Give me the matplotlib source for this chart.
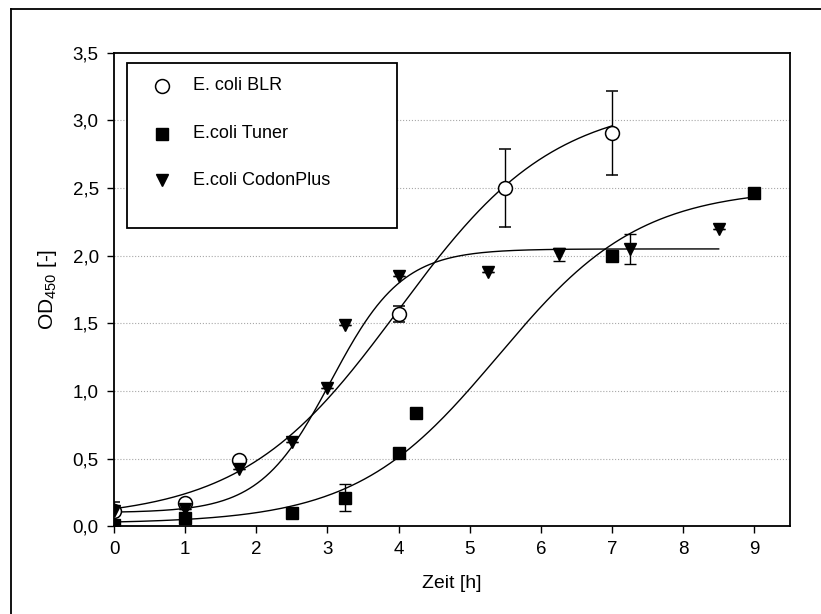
import numpy as np
import matplotlib.pyplot as plt
from matplotlib.lines import Line2D
from matplotlib.patches import Rectangle

# ------ data ---------------------------
blr_t = [0, 1, 1.75, 4, 5.5, 7]
blr_od = [0.11, 0.17, 0.49, 1.57, 2.50, 2.91]
blr_err = [0.07, 0.02, 0.0, 0.06, 0.29, 0.31]

tuner_t = [0, 1, 2.5, 3.25, 4, 4.25, 7, 9]
tuner_od = [0.01, 0.06, 0.10, 0.21, 0.54, 0.84, 2.00, 2.46]
tuner_err = [0.0, 0.0, 0.0, 0.10, 0.0, 0.0, 0.0, 0.0]

codon_t = [0, 1, 1.75, 2.5, 3, 3.25, 4, 5.25, 6.25, 7.25, 8.5]
codon_od = [0.11, 0.13, 0.42, 0.62, 1.02, 1.49, 1.85, 1.88, 2.01, 2.05, 2.20]
codon_err = [0.0, 0.0, 0.0, 0.0, 0.0, 0.0, 0.0, 0.0, 0.05, 0.11, 0.0]

labels = ['E. coli BLR', 'E.coli Tuner', 'E.coli CodonPlus']

# sigmoid fit parameters (y0, a, x0, b) and fit range
blr_fit = (0.05, 3.10, 4.0, 1.10, 7.0)
tuner_fit = (0.02, 2.48, 5.4, 1.00, 9.0)
codon_fit = (0.10, 1.95, 3.05, 0.50, 8.5)
# ---------------------------------------


def sigmoid(x, y0, a, x0, b):
	return y0 + a / (1 + np.exp(-(x - x0) / b))


def draw_fit(ax, fit):
	y0, a, x0, b, xmax = fit
	xs = np.linspace(0, xmax, 300)
	ax.plot(xs, sigmoid(xs, y0, a, x0, b), color='black', lw=1.0, zorder=2)


plt.rcParams['font.family'] = ['Liberation Sans', 'DejaVu Sans']
plt.rcParams['mathtext.default'] = 'regular'

fig = plt.figure(figsize=(8.21, 6.14), dpi=100)
ax = fig.add_axes([0.139, 0.143, 0.823, 0.771])

for fit in (blr_fit, tuner_fit, codon_fit):
	draw_fit(ax, fit)

styles = [
	dict(marker='o', ms=10, mfc='white', mec='black', mew=1.1),
	dict(marker='s', ms=8, mfc='black', mec='black'),
	dict(marker='v', ms=9, mfc='black', mec='black'),
]

err_kw = dict(ecolor='black', elinewidth=1.0, capsize=4, capthick=1.0, linestyle='none', zorder=3)
ax.errorbar(blr_t, blr_od, yerr=blr_err, **styles[0], **err_kw)
ax.errorbar(tuner_t, tuner_od, yerr=tuner_err, **styles[1], **err_kw)
ax.errorbar(codon_t, codon_od, yerr=codon_err, **styles[2], **err_kw)

ax.set_xlim(0, 9.5)
ax.set_ylim(0, 3.5)
ax.set_xticks(range(0, 10))
yt = np.arange(0, 3.51, 0.5)
ax.set_yticks(yt)
ax.set_yticklabels([('%.1f' % v).replace('.', ',') for v in yt])
ax.tick_params(direction='out', length=5, width=1, labelsize=13.5, pad=6)
for sp in ax.spines.values():
	sp.set_linewidth(1.3)

for v in yt[1:-1]:
	ax.axhline(v, color='#a8a8a8', lw=0.8, ls=':', zorder=0)

ax.set_xlabel('Zeit [h]', fontsize=14, labelpad=12)
ax.set_ylabel('OD$_{450}$ [-]', fontsize=15, labelpad=10)

# hand-made legend box like the original
ax.add_patch(Rectangle((0.019, 0.630), 0.400, 0.349, transform=ax.transAxes,
					   facecolor='white', edgecolor='black', lw=1.3, zorder=5))
rows_y = [0.930, 0.829, 0.731]
for st, lab, ry in zip(styles, labels, rows_y):
	ax.plot([0.071], [ry], transform=ax.transAxes, ls='none', zorder=6, clip_on=False, **st)
	ax.text(0.117, ry, lab, transform=ax.transAxes, fontsize=13, va='center', ha='left', zorder=6)

# outer frame (top and left only visible)
fig.add_artist(Line2D([0.013, 0.013], [0.0, 0.985], color='black', lw=1.3, transform=fig.transFigure))
fig.add_artist(Line2D([0.013, 1.0], [0.985, 0.985], color='black', lw=1.3, transform=fig.transFigure))

fig.savefig('out.png', dpi=100)
